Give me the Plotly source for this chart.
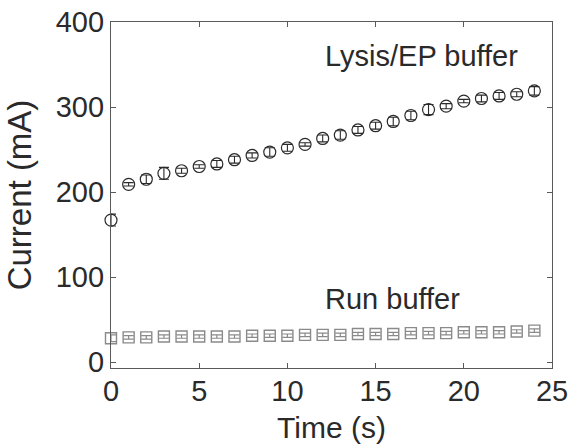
import plotly.graph_objects as go

# Current measured over time for two buffers (mean ± error)
time_s = list(range(25))

lysis_current = [167, 209, 215, 222, 225, 230, 233, 238, 243, 247, 252, 256, 263,
                 267, 273, 278, 283, 290, 297, 301, 307, 310, 313, 315, 319]
lysis_err = [7, 2, 5, 7, 3, 2, 4, 4, 3, 5, 4, 2, 4, 5, 4, 4, 5, 5, 6, 3, 2, 4, 4, 3, 5]

run_current = [28, 29, 29, 30, 30, 30, 30, 30, 31, 31, 31, 32, 32, 32, 33, 33, 33,
               34, 34, 34, 35, 35, 35, 36, 37]
run_err = [4, 2, 2, 2, 2, 2, 2, 2, 2, 2, 2, 2, 2, 2, 2, 2, 2, 2, 2, 2, 2, 2, 2, 2, 2]

x_ticks = [0, 5, 10, 15, 20, 25]
y_ticks = [0, 100, 200, 300, 400]

FONT = "Liberation Sans, Arial, sans-serif"
TXT = "#2a2a2a"
AXC = "#5a5a5a"

fig = go.Figure()

fig.add_trace(go.Scatter(
    x=time_s, y=run_current, mode="markers",
    error_y=dict(type="data", array=run_err, color="#8a8a8a", thickness=1.2, width=5),
    marker=dict(symbol="square-open", size=11, color="#8a8a8a", line=dict(width=1.4)),
    showlegend=False, cliponaxis=False,
))

fig.add_trace(go.Scatter(
    x=time_s, y=lysis_current, mode="markers",
    error_y=dict(type="data", array=lysis_err, color="#2a2a2a", thickness=1.1, width=5),
    marker=dict(symbol="circle-open", size=12, color="#2a2a2a", line=dict(width=1.2)),
    showlegend=False, cliponaxis=False,
))

fig.add_annotation(x=12, y=360, text="Lysis/EP buffer", showarrow=False,
                   xanchor="left", yanchor="middle",
                   font=dict(family=FONT, size=29, color=TXT))
fig.add_annotation(x=12, y=74, text="Run buffer", showarrow=False,
                   xanchor="left", yanchor="middle",
                   font=dict(family=FONT, size=29, color=TXT))

axis_common = dict(
    showline=True, linecolor=AXC, linewidth=1.2, mirror="ticks",
    ticks="inside", ticklen=5, tickcolor=AXC, tickwidth=1,
    showgrid=False, zeroline=False, automargin=False,
    tickfont=dict(family=FONT, size=29, color=TXT),
)

fig.update_xaxes(range=[0, 25], tickvals=x_ticks, ticklabelstandoff=-3,
                 title=dict(text="Time (s)", font=dict(family=FONT, size=30, color=TXT),
                            standoff=11),
                 **axis_common)
fig.update_yaxes(range=[-7, 400], tickvals=y_ticks,
                 title=dict(text="Current (mA)", font=dict(family=FONT, size=33, color=TXT),
                            standoff=14),
                 **axis_common)

fig.update_layout(
    width=572, height=448,
    margin=dict(l=111, r=20, t=22, b=80),
    plot_bgcolor="white", paper_bgcolor="white",
)

fig.write_html("out.html")
